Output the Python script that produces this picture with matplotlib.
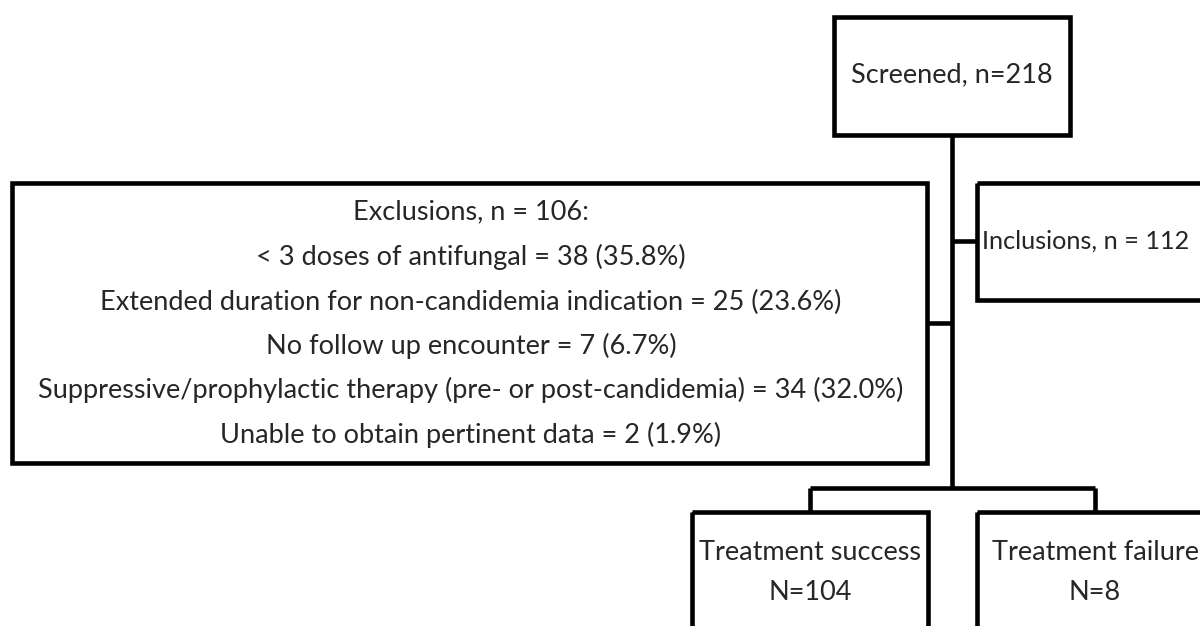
import matplotlib.pyplot as plt
from matplotlib.patches import Rectangle

# ---- flowchart counts ----
screened_n = 218
inclusions_n = 112
exclusions_n = 106
exclusion_reasons = [
    "< 3 doses of antifungal",
    "Extended duration for non-candidemia indication",
    "No follow up encounter",
    "Suppressive/prophylactic therapy (pre- or post-candidemia)",
    "Unable to obtain pertinent data",
]
exclusion_counts = [38, 25, 7, 34, 2]
exclusion_pcts = ["35.8", "23.6", "6.7", "32.0", "1.9"]
success_n = 104
failure_n = 8

LW = 3.3
FS = 19.5
TXT = '#262626'
plt.rcParams['font.family'] = ['Lato', 'DejaVu Sans']

fig = plt.figure(figsize=(12, 6.26), dpi=100)
ax = fig.add_axes([0, 0, 1, 1])
ax.set_xlim(0, 1200)
ax.set_ylim(626, 0)
ax.axis('off')


def box(x0, y0, x1, y1):
    ax.add_patch(Rectangle((x0, y0), x1 - x0, y1 - y0, fill=False,
                           ec='black', lw=LW, joinstyle='miter', clip_on=False))


def line(xs, ys):
    ax.plot(xs, ys, color='black', lw=LW, solid_capstyle='butt', solid_joinstyle='miter')


# boxes
box(834, 17, 1070, 135)            # screened
box(12, 183, 927, 463)             # exclusions
box(977, 183, 1260, 300)           # inclusions (runs off the page)
box(692, 512, 928, 660)            # success
box(977, 512, 1213, 660)           # failure

# connectors
line([952, 952], [135, 488])
line([927, 952], [323, 323])
line([952, 977], [241, 241])
line([810, 1095], [488, 488])
line([810, 810], [488, 512])
line([1095, 1095], [488, 512])

# text
ax.text(952, 75, f"Screened, n={screened_n}", ha='center', va='center', fontsize=FS, color=TXT)
# slightly smaller so the label stays inside the page
ax.text(982, 241, f"Inclusions, n = {inclusions_n}", ha='left', va='center', fontsize=18.2, color=TXT)

ys = [212, 257, 302, 346, 390, 435]
ax.text(471, ys[0], f"Exclusions, n = {exclusions_n}:", ha='center', va='center', fontsize=FS, color=TXT)
for y, lab, c, p in zip(ys[1:], exclusion_reasons, exclusion_counts, exclusion_pcts):
    ax.text(471, y, f"{lab} = {c} ({p}%)", ha='center', va='center', fontsize=FS, color=TXT)

ax.text(810, 552, "Treatment success", ha='center', va='center', fontsize=FS, color=TXT)
ax.text(810, 592, f"N={success_n}", ha='center', va='center', fontsize=FS, color=TXT)
ax.text(1095, 552, "Treatment failure", ha='center', va='center', fontsize=FS, color=TXT)
ax.text(1095, 592, f"N={failure_n}", ha='center', va='center', fontsize=FS, color=TXT)

fig.savefig('out.png', dpi=100, facecolor='white')
